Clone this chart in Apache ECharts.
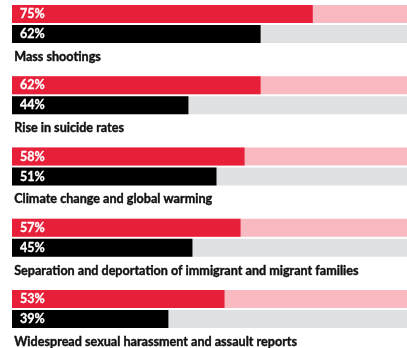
<!DOCTYPE html>
<html>
<head>
<meta charset="utf-8">
<script src="https://cdn.jsdelivr.net/npm/echarts@6/dist/echarts.min.js"></script>
<style>
  html, body { margin: 0; padding: 0; background: #fff; }
  #chart { width: 407px; height: 348px; }
</style>
</head>
<body>
<div id="chart"></div>
<script>
// survey topics and the two percentages for each
var topics = [
  "Mass shootings",
  "Rise in suicide rates",
  "Climate change and global warming",
  "Separation and deportation of immigrant and migrant families",
  "Widespread sexual harassment and assault reports"
];
var redValues = [75, 62, 58, 57, 53];
var blackValues = [62, 44, 51, 45, 39];

var RED = "#e81f38", PINK = "#f8b9c1", BLACK = "#000000", GREY = "#e0e1e3";
var FIRST_TOP = 4, PITCH = 71.25;

var grids = [], xAxes = [], yAxes = [], series = [], graphics = [];

topics.forEach(function (name, i) {
  var top = FIRST_TOP + i * PITCH;
  grids.push({ left: 12, top: top, width: 401, height: 40, outerBoundsMode: "none" });
  xAxes.push({ gridIndex: i, type: "value", min: 0, max: 100, show: false });
  yAxes.push({ gridIndex: i, type: "category", data: ["a", "b"], inverse: true, show: false });

  // full 100% track
  series.push({
    type: "bar", xAxisIndex: i, yAxisIndex: i, barWidth: 18, silent: true, z: 1,
    data: [
      { value: 100, itemStyle: { color: PINK } },
      { value: 100, itemStyle: { color: GREY } }
    ]
  });
  // actual values
  series.push({
    type: "bar", xAxisIndex: i, yAxisIndex: i, barWidth: 18, barGap: "-100%", z: 2,
    data: [
      { value: redValues[i], itemStyle: { color: RED } },
      { value: blackValues[i], itemStyle: { color: BLACK } }
    ],
    label: {
      show: true, position: "insideLeft", distance: 8,
      color: "#fff", fontFamily: "Lato", fontWeight: "bold", fontSize: 12.5,
      textBorderColor: "#fff", textBorderWidth: 0.3,
      formatter: function (p) { return p.value + "%"; }
    }
  });

  graphics.push({
    type: "text", left: 14, top: top + 46,
    style: {
      text: name, fill: "#111", font: "bold 12.6px Lato",
      stroke: "#111", lineWidth: 0.4
    }
  });
});

var chart = echarts.init(document.getElementById("chart"));
chart.setOption({
  animation: false,
  grid: grids,
  xAxis: xAxes,
  yAxis: yAxes,
  series: series,
  graphic: graphics
});
</script>
</body>
</html>
